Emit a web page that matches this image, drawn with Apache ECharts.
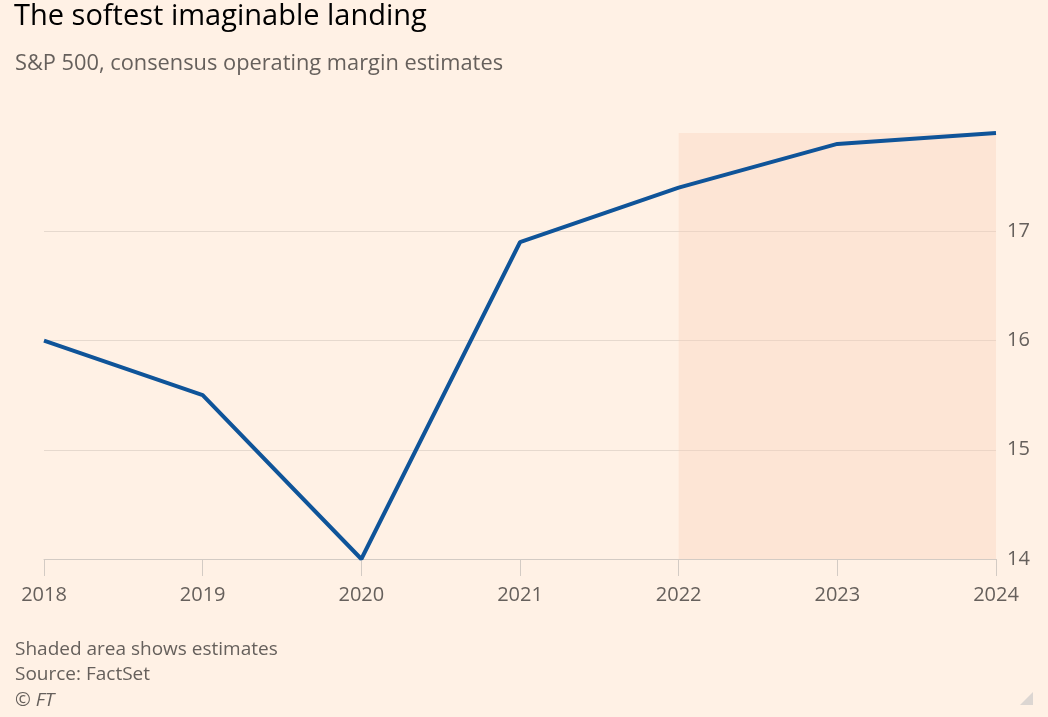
<!DOCTYPE html>
<html>
<head>
<meta charset="utf-8">
<script src="https://cdn.jsdelivr.net/npm/echarts@6/dist/echarts.min.js"></script>
<style>
html,body{margin:0;padding:0;background:#fff1e5;}
#chart{width:1048px;height:717px;}
</style>
</head>
<body>
<div id="chart"></div>
<script>
const years = ['2018','2019','2020','2021','2022','2023','2024'];
const margins = [16.0, 15.5, 14.0, 16.9, 17.4, 17.8, 17.9];
const estimateStart = '2022';
const estimateEnd = '2024';
const yMin = 14;
const yMax = 17.9;
const yInterval = 1;
const titleText = 'The softest imaginable landing';
const subtitleText = 'S&P 500, consensus operating margin estimates';
const footLines = ['Shaded area shows estimates', 'Source: FactSet'];
const creditText = '© FT';

const FONT = '"Open Sans", Lato, sans-serif';
const grey = '#66605c';
const gridCol = '#e6d9ce';

function txt(x, y, text, font, fill) {
  return {type:'text', x: x, y: y, style:{text: text, font: font, fill: fill, textVerticalAlign: 'middle', verticalAlign: 'middle'}};
}

const chart = echarts.init(document.getElementById('chart'), null, {renderer:'canvas'});
chart.setOption({
  backgroundColor: '#fff1e5',
  animation: false,
  textStyle: {fontFamily: FONT},
  grid: {left: 44, right: 52, top: 133, bottom: 158, containLabel: false},
  graphic: [
    txt(14, 17, titleText, '400 29px ' + FONT, '#000'),
    txt(15, 64, subtitleText, '400 21.8px ' + FONT, grey),
    txt(15, 650, footLines[0], '400 19px ' + FONT, grey),
    txt(15, 675, footLines[1], '400 19px ' + FONT, grey),
    txt(15, 701, creditText, 'italic 400 19px ' + FONT, grey),
    {type:'polygon', shape:{points:[[1033,692],[1033,705],[1020,705]]}, style:{fill:'#dcd6d2'}}
  ],
  xAxis: {
    type: 'category',
    data: years,
    boundaryGap: false,
    axisLine: {show: true, lineStyle: {color: '#d3cbc4', width: 1}},
    axisTick: {show: true, length: 17, lineStyle: {color: '#d3cbc4'}},
    axisLabel: {color: grey, fontSize: 20, margin: 26, fontFamily: FONT},
    splitLine: {show: false}
  },
  yAxis: {
    type: 'value',
    position: 'right',
    min: yMin, max: yMax, interval: yInterval,
    axisLine: {show: false},
    axisTick: {show: false},
    axisLabel: {color: grey, fontSize: 20, margin: 11, fontFamily: FONT, showMaxLabel: false},
    splitLine: {show: true, lineStyle: {color: [gridCol, gridCol, gridCol, gridCol, 'rgba(0,0,0,0)'], width: 1}}
  },
  series: [{
    type: 'line',
    data: margins,
    symbol: 'none',
    lineStyle: {color: '#0f5499', width: 4},
    z: 5,
    markArea: {
      silent: true,
      itemStyle: {color: 'rgba(250, 205, 180, 0.32)'},
      data: [[{xAxis: estimateStart, yAxis: yMin}, {xAxis: estimateEnd, yAxis: yMax}]]
    }
  }]
});
</script>
</body>
</html>
